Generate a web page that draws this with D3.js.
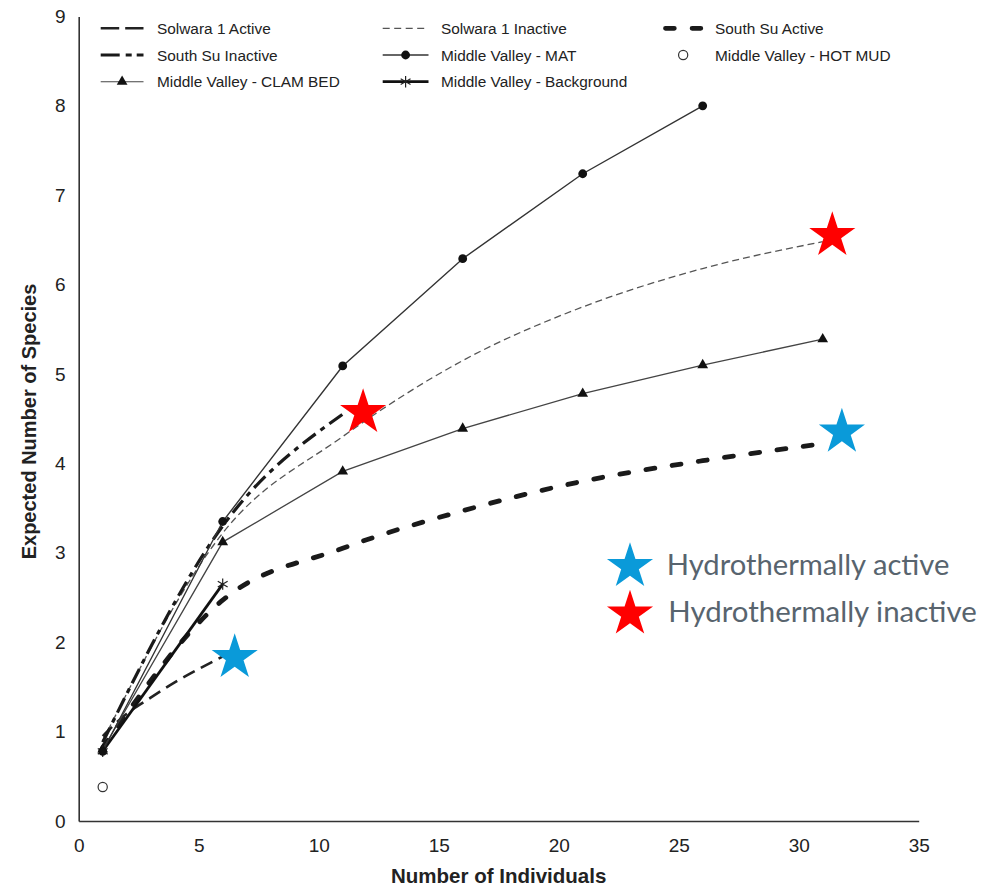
<!DOCTYPE html>
<html>
<head>
<meta charset="utf-8">
<script src="https://cdn.jsdelivr.net/npm/d3@7"></script>
<style>
  body { margin: 0; background: #fff; }
  svg { display: block; }
</style>
</head>
<body>
<svg id="chart" width="993" height="888"></svg>
<script>
// ---- Rarefaction data: number of individuals (n) vs expected species E(S) ----
const solwaraActiveN = [1, 2, 3, 4, 5, 6];
const solwaraActiveS = [0.95, 1.2, 1.38, 1.55, 1.7, 1.84];

const solwaraInactiveN = [1, 6, 11, 16, 21, 26, 31];
const solwaraInactiveS = [0.9, 3.22, 4.3, 5.15, 5.75, 6.18, 6.48];

const southSuActiveN = [1, 6, 11, 16, 21, 26, 31];
const southSuActiveS = [0.82, 2.47, 3.05, 3.47, 3.8, 4.03, 4.22];

const southSuInactiveN = [1, 6, 11];
const southSuInactiveS = [0.88, 3.3, 4.55];

const matN = [1, 6, 11, 16, 21, 26];
const matS = [0.78, 3.35, 5.09, 6.29, 7.24, 8.0];

const clamN = [1, 6, 11, 16, 21, 26, 31];
const clamS = [0.8, 3.12, 3.91, 4.39, 4.78, 5.1, 5.39];

const backgroundN = [1, 6];
const backgroundS = [0.78, 2.65];

const hotMudN = [1];
const hotMudS = [0.38];

// Highlight stars placed at curve ends: [n, E(S)]
const activeStars = [[6.5, 1.83], [31.8, 4.35]];
const inactiveStars = [[11.85, 4.57], [31.4, 6.55]];

const xTicks = [0, 5, 10, 15, 20, 25, 30, 35];
const yTicks = [0, 1, 2, 3, 4, 5, 6, 7, 8, 9];

const legendLabels = [
  "Solwara 1 Active", "Solwara 1 Inactive", "South Su Active",
  "South Su Inactive", "Middle Valley - MAT", "Middle Valley - HOT MUD",
  "Middle Valley - CLAM BED", "Middle Valley - Background"
];
const starLabels = ["Hydrothermally active", "Hydrothermally inactive"];

// ---- Layout ----
const svg = d3.select("#chart");
const x = d3.scaleLinear().domain([0, 35]).range([78.7, 918.7]);
const y = d3.scaleLinear().domain([0, 9]).range([821, 16.4]);
const zip = (a, b) => a.map((v, i) => [v, b[i]]);

const font = "'Liberation Sans', Arial, sans-serif";

// ---- Axes ----
const xAxis = svg.append("g")
  .attr("transform", `translate(0,${y(0)})`)
  .call(d3.axisBottom(x).tickValues(xTicks).tickSize(0).tickPadding(17.5));
const yAxis = svg.append("g")
  .attr("transform", `translate(${x(0)},0)`)
  .call(d3.axisLeft(y).tickValues(yTicks).tickSize(0).tickPadding(13));
[xAxis, yAxis].forEach(g => {
  g.select(".domain").attr("stroke", "#333").attr("stroke-width", 1.6);
  g.selectAll("text").attr("font-family", font).attr("font-size", 19).attr("fill", "#222");
});

svg.append("text")
  .attr("x", (x(0) + x(35)) / 2 + 0)
  .attr("y", 883)
  .attr("text-anchor", "middle")
  .attr("font-family", font).attr("font-weight", "bold").attr("font-size", 20.5)
  .attr("fill", "#222")
  .text("Number of Individuals");

svg.append("text")
  .attr("transform", "translate(36,421.5) rotate(-90)")
  .attr("text-anchor", "middle")
  .attr("font-family", font).attr("font-weight", "bold").attr("font-size", 20)
  .attr("fill", "#222")
  .text("Expected Number of Species");

// ---- Series styles ----
const smooth = d3.line().x(d => x(d[0])).y(d => y(d[1])).curve(d3.curveMonotoneX);
const straight = d3.line().x(d => x(d[0])).y(d => y(d[1]));

const styles = {
  solwaraActive:   { stroke: "#222", width: 2.6, dash: "13,7", cap: "butt" },
  solwaraInactive: { stroke: "#555", width: 1.3, dash: "7,4", cap: "butt" },
  southSuActive:   { stroke: "#1a1a1a", width: 4.8, dash: "9,17.5", cap: "round" },
  southSuInactive: { stroke: "#1a1a1a", width: 3.2, dash: "16,6,5,6", cap: "butt" },
  mat:             { stroke: "#333", width: 1.4, dash: null, cap: "butt" },
  clam:            { stroke: "#444", width: 1.3, dash: null, cap: "butt" },
  background:      { stroke: "#111", width: 2.8, dash: null, cap: "butt" }
};

function styled(sel, s) {
  return sel.attr("fill", "none").attr("stroke", s.stroke)
    .attr("stroke-width", s.width).attr("stroke-dasharray", s.dash)
    .attr("stroke-linecap", s.cap);
}

const plot = svg.append("g");

// Asterisk marker as a custom symbol type
const symbolAsterisk = {
  draw(ctx, size) {
    const r = Math.sqrt(size) / 2;
    for (const a of [90, 30, 150]) {
      const t = a * Math.PI / 180;
      ctx.moveTo(r * Math.cos(t), -r * Math.sin(t));
      ctx.lineTo(-r * Math.cos(t), r * Math.sin(t));
    }
  }
};

const series = [
  { pts: zip(southSuActiveN, southSuActiveS), gen: smooth, st: styles.southSuActive },
  { pts: zip(solwaraInactiveN, solwaraInactiveS), gen: smooth, st: styles.solwaraInactive },
  { pts: zip(solwaraActiveN, solwaraActiveS), gen: smooth, st: styles.solwaraActive },
  { pts: zip(southSuInactiveN, southSuInactiveS), gen: smooth, st: styles.southSuInactive },
  { pts: zip(clamN, clamS), gen: straight, st: styles.clam, marker: "triangle" },
  { pts: zip(backgroundN, backgroundS), gen: straight, st: styles.background, marker: "asterisk" },
  { pts: zip(matN, matS), gen: straight, st: styles.mat, marker: "circle" }
];

function drawMarker(g, kind, cx, cy) {
  if (kind === "circle") {
    g.append("circle").attr("cx", cx).attr("cy", cy).attr("r", 4.4).attr("fill", "#111");
  } else if (kind === "triangle") {
    g.append("path").attr("transform", `translate(${cx},${cy})`)
      .attr("d", d3.symbol(d3.symbolTriangle, 50)()).attr("fill", "#111");
  } else if (kind === "asterisk") {
    g.append("path").attr("transform", `translate(${cx},${cy})`)
      .attr("d", d3.symbol(symbolAsterisk, 130)())
      .attr("fill", "none").attr("stroke", "#222").attr("stroke-width", 1.2);
  } else if (kind === "open") {
    g.append("circle").attr("cx", cx).attr("cy", cy).attr("r", 4.6)
      .attr("fill", "#fff").attr("stroke", "#333").attr("stroke-width", 1.2);
  }
}

series.forEach(s => {
  styled(plot.append("path").attr("d", s.gen(s.pts)), s.st);
  if (s.marker) s.pts.forEach(p => drawMarker(plot, s.marker, x(p[0]), y(p[1])));
});
zip(hotMudN, hotMudS).forEach(p => drawMarker(plot, "open", x(p[0]), y(p[1])));

// ---- Legend (three columns) ----
const legend = svg.append("g").attr("font-family", font).attr("font-size", 15.4).attr("fill", "#222");
const colLine = [[100.7, 143.5], [382.7, 428.5], [663.3, 703]];
const colText = [157, 441, 715];
const rowY = [28.3, 55, 81.7];
const legendKeys = [
  { st: styles.solwaraActive }, { st: styles.solwaraInactive }, { st: styles.southSuActive },
  { st: styles.southSuInactive }, { st: styles.mat, marker: "circle" }, { marker: "open", noLine: true },
  { st: Object.assign({}, styles.clam, { width: 1.1 }), marker: "triangle" }, { st: styles.background, marker: "asterisk" }
];
const legendDash = {
  0: "18.5,6", 1: "7,4.5", 2: "8.8,17.8", 3: "19,6,6,5"
};
legendLabels.forEach((lab, i) => {
  const col = i % 3, row = Math.floor(i / 3);
  const [x0, x1] = colLine[col];
  const cy = rowY[row];
  const k = legendKeys[i];
  if (!k.noLine) {
    const l = legend.append("line").attr("x1", x0).attr("x2", x1).attr("y1", cy).attr("y2", cy);
    styled(l, Object.assign({}, k.st, { dash: legendDash[i] || null }));
    if (i === 2) l.attr("x1", x0 + 2.2).attr("x2", x1 - 2.2);
  }
  if (k.marker) drawMarker(legend, k.marker, (x0 + x1) / 2, cy);
  legend.append("text").attr("x", colText[col]).attr("y", cy + 5.5).text(lab);
});

// ---- Highlight stars ----
const starPath = d3.symbol(d3.symbolStar, 660)();
const starBlue = "#0a9ad9", starRed = "#ff0000";
activeStars.forEach(p => svg.append("path")
  .attr("transform", `translate(${x(p[0])},${y(p[1])})`).attr("d", starPath).attr("fill", starBlue));
inactiveStars.forEach(p => svg.append("path")
  .attr("transform", `translate(${x(p[0])},${y(p[1])})`).attr("d", starPath).attr("fill", starRed));

const starKey = svg.append("g");
[[starBlue, 566.4, 575, 666.7, 282.7], [starRed, 614, 621.7, 668.3, 308.4]].forEach((d, i) => {
  starKey.append("path").attr("transform", `translate(630,${d[1]})`).attr("d", starPath).attr("fill", d[0]);
  starKey.append("text").attr("x", d[3]).attr("y", d[2])
    .attr("font-family", "Lato, 'Open Sans', sans-serif").attr("font-size", 28)
    .attr("fill", "#58646e")
    .attr("textLength", d[4]).attr("lengthAdjust", "spacingAndGlyphs")
    .text(starLabels[i]);
});
</script>
</body>
</html>
